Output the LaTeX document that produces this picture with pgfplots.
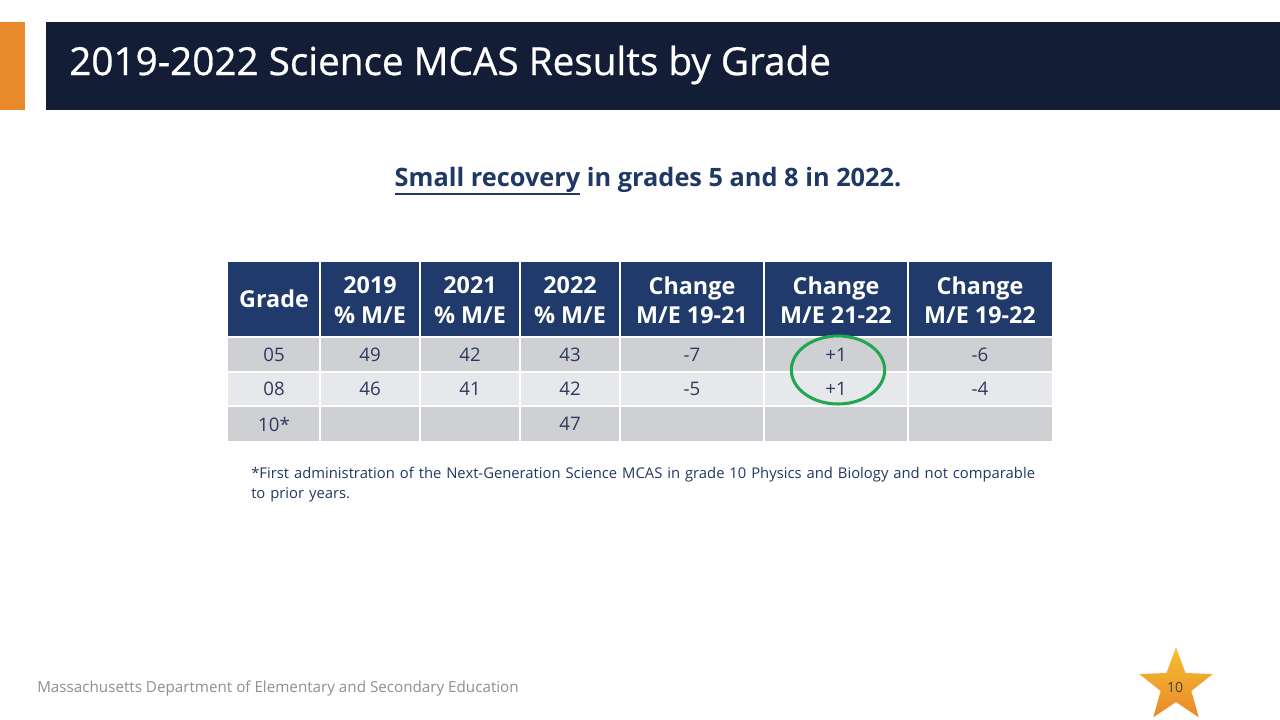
\documentclass[border=0pt]{standalone}
\usepackage{pgfplots}
\pgfplotsset{compat=1.18}
\usepackage{pgfplotstable}
\usetikzlibrary{shapes.geometric}
\usepackage{fontspec}
\setmainfont{Open Sans}
\newfontfamily\titlefont[FakeBold=0.7]{Open Sans}
\definecolor{banner}{HTML}{131D36}
\definecolor{orangebar}{HTML}{E8892B}
\definecolor{navy}{HTML}{1F3864}
\definecolor{hdr}{HTML}{203A6B}
\definecolor{rowdark}{HTML}{CFD0D4}
\definecolor{rowlight}{HTML}{E7E8EB}
\definecolor{bodytext}{HTML}{2C3A5C}
\definecolor{circlegreen}{HTML}{1FA84F}
\definecolor{footgray}{HTML}{8E8E98}
\definecolor{startop}{HTML}{F8BE30}
\definecolor{starbot}{HTML}{E8892B}

\pgfplotstableread{
x y label
274 355 05
370 355 49
470 355 42
570 355 43
692 355 -7
836 355 +1
980 355 -6
274 389 08
370 389 46
470 389 41
570 389 42
692 389 -5
836 389 +1
980 389 -4
274 424 10*
570 424 47
}\celltable

\begin{document}
\begin{tikzpicture}
\begin{axis}[
  width=960pt, height=540pt, scale only axis,
  xmin=0, xmax=1280, ymin=0, ymax=720, y dir=reverse,
  hide axis, clip=false]
\path[fill=white] (axis cs:0,0) rectangle (axis cs:1280,720);
% banner
\fill[orangebar] (axis cs:0,22) rectangle (axis cs:25,110);
\fill[banner] (axis cs:46,22) rectangle (axis cs:1280,110);
\node[anchor=west, text=white, font=\titlefont\fontsize{29}{34}\selectfont, inner sep=0] at (axis cs:69,65) {2019-2022 Science MCAS Results by Grade};
% subtitle
\node[text=navy, font=\bfseries\fontsize{19}{23}\selectfont, inner sep=0] (sub) at (axis cs:648,180) {Small recovery in grades 5 and 8 in 2022.};
\draw[navy, line width=1.4pt] (axis cs:395,194) -- (axis cs:580,194);
% table backgrounds
\fill[hdr] (axis cs:228,262) rectangle (axis cs:1052,336);
\fill[rowdark] (axis cs:228,338) rectangle (axis cs:1052,372);
\fill[rowlight] (axis cs:228,372) rectangle (axis cs:1052,406);
\fill[rowdark] (axis cs:228,406) rectangle (axis cs:1052,441);
% grid lines
\draw[white, line width=1.5pt] (axis cs:320,262) -- (axis cs:320,441);
\draw[white, line width=1.5pt] (axis cs:420,262) -- (axis cs:420,441);
\draw[white, line width=1.5pt] (axis cs:520,262) -- (axis cs:520,441);
\draw[white, line width=1.5pt] (axis cs:620,262) -- (axis cs:620,441);
\draw[white, line width=1.5pt] (axis cs:764,262) -- (axis cs:764,441);
\draw[white, line width=1.5pt] (axis cs:908,262) -- (axis cs:908,441);
\draw[white, line width=2pt] (axis cs:228,337) -- (axis cs:1052,337);
\draw[white, line width=1.5pt] (axis cs:228,372) -- (axis cs:1052,372);
\draw[white, line width=1.5pt] (axis cs:228,406) -- (axis cs:1052,406);
% headers
\node[text=white, font=\bfseries\fontsize{17.5}{22}\selectfont, align=center, inner sep=0] at (axis cs:274,299) {Grade};
\node[text=white, font=\bfseries\fontsize{17.5}{22}\selectfont, align=center, inner sep=0] at (axis cs:370,300) {2019\\\% M/E};
\node[text=white, font=\bfseries\fontsize{17.5}{22}\selectfont, align=center, inner sep=0] at (axis cs:470,300) {2021\\\% M/E};
\node[text=white, font=\bfseries\fontsize{17.5}{22}\selectfont, align=center, inner sep=0] at (axis cs:570,300) {2022\\\% M/E};
\node[text=white, font=\bfseries\fontsize{17.5}{22}\selectfont, align=center, inner sep=0] at (axis cs:692,300) {Change\\M/E 19-21};
\node[text=white, font=\bfseries\fontsize{17.5}{22}\selectfont, align=center, inner sep=0] at (axis cs:836,300) {Change\\M/E 21-22};
\node[text=white, font=\bfseries\fontsize{17.5}{22}\selectfont, align=center, inner sep=0] at (axis cs:980,300) {Change\\M/E 19-22};
% body values
\addplot[draw=none, mark=none, nodes near coords, point meta=explicit symbolic,
  every node near coord/.append style={anchor=center, text=bodytext, font=\fontsize{14}{16}\selectfont, inner sep=0}]
  table[x=x, y=y, meta=label] {\celltable};
% green ellipse
\draw[circlegreen, line width=2.3pt] (axis cs:838,370) ellipse [x radius=35pt, y radius=25.5pt];
% footnote
\node[anchor=north west, text=navy, font=\fontsize{11.1}{15}\selectfont, align=left, inner sep=0, text width=594pt] at (axis cs:251,467) {*First administration of the Next-Generation Science MCAS in grade 10 Physics and Biology and not comparable to prior years.};
% footer
\node[anchor=west, text=footgray, font=\fontsize{11.4}{13}\selectfont, inner sep=0] at (axis cs:37,689) {Massachusetts Department of Elementary and Secondary Education};
% star
\node[star, star points=5, star point ratio=2.4, minimum size=58pt, inner sep=0, top color=startop, bottom color=starbot, draw=none] at (axis cs:1176,686) {};
\node[text=black!75, font=\fontsize{10.5}{12}\selectfont, inner sep=0] at (axis cs:1175,687) {10};
\end{axis}
\end{tikzpicture}
\end{document}
